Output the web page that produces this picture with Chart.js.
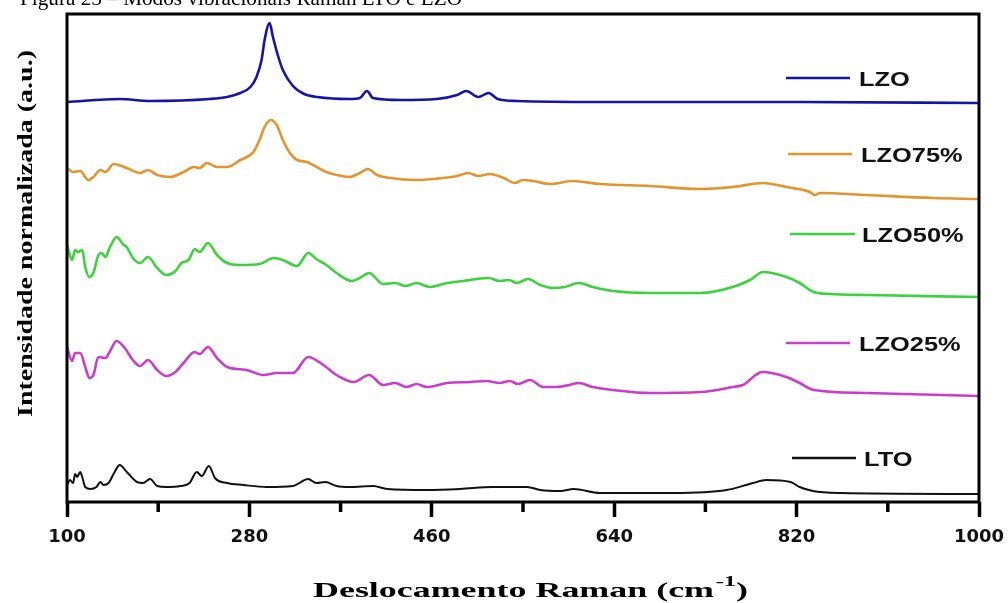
<!DOCTYPE html>
<html>
<head>
<meta charset="utf-8">
<script src="https://cdn.jsdelivr.net/npm/chart.js@4.4.1/dist/chart.umd.min.js"></script>
<style>
  html, body { margin: 0; padding: 0; background: #fff; }
  #wrap { width: 1008px; height: 603px; position: relative; }
</style>
</head>
<body>
<div id="wrap"><canvas id="ramanChart"></canvas></div>
<script>
// Raman shift (cm-1) and offset intensity (a.u.)
const lzoShift     = [100, 152, 182, 241, 258, 271, 281, 287, 292, 295, 300, 303, 308, 313, 323, 334, 347, 379, 389, 396, 402, 429, 465, 485, 494, 506, 516, 525, 544, 626, 823, 1000];
const lzoIntensity = [400, 403, 401, 403, 405, 409, 415, 425, 442, 462, 479, 466, 447, 432, 416, 408, 405, 403, 404, 411, 404, 402, 403, 407, 411, 405, 409, 403, 401, 400, 400, 399];

const lzo75Shift     = [100, 106, 113, 121, 126, 133, 138, 146, 159, 172, 180, 189, 202, 215, 225, 231, 238, 248, 258, 271, 284, 290, 295, 301, 307, 313, 320, 327, 337, 343, 356, 366, 379, 389, 397, 406, 419, 445, 471, 485, 496, 506, 517, 531, 542, 550, 560, 577, 599, 626, 675, 725, 757, 787, 810, 833, 838, 843, 889, 955, 1000];
const lzo75Intensity = [334, 330, 331, 322, 325, 332, 330, 338, 334, 329, 332, 327, 325, 330, 335, 334, 339, 335, 335, 342, 350, 362, 375, 382, 377, 362, 349, 342, 340, 337, 330, 327, 325, 329, 333, 327, 324, 322, 324, 326, 329, 326, 328, 324, 319, 322, 321, 318, 321, 318, 316, 313, 315, 319, 315, 310, 307, 309, 307, 304, 303];

const lzo50Shift     = [100, 105, 108, 111, 115, 118, 122, 126, 131, 134, 138, 142, 149, 156, 159, 165, 172, 180, 189, 198, 207, 213, 220, 226, 231, 239, 248, 258, 271, 290, 304, 313, 327, 338, 346, 356, 366, 381, 389, 398, 412, 424, 434, 445, 458, 475, 491, 504, 516, 527, 536, 544, 555, 567, 580, 591, 605, 619, 639, 675, 725, 757, 774, 787, 810, 823, 837, 853, 889, 1000];
const lzo50Intensity = [257, 242, 252, 250, 252, 235, 225, 229, 247, 249, 245, 254, 265, 257, 255, 244, 239, 245, 234, 227, 231, 239, 242, 253, 250, 259, 247, 239, 237, 238, 244, 242, 236, 249, 243, 237, 229, 221, 224, 229, 218, 219, 216, 219, 215, 219, 221, 223, 224, 221, 222, 219, 223, 217, 214, 215, 219, 215, 211, 209, 209, 215, 222, 230, 225, 219, 210, 208, 207, 205];

const lzo25Shift     = [100, 105, 108, 113, 118, 122, 126, 131, 138, 142, 149, 157, 165, 172, 180, 189, 198, 207, 215, 226, 231, 239, 248, 258, 277, 294, 307, 323, 338, 353, 366, 383, 398, 412, 424, 435, 445, 455, 475, 498, 514, 527, 537, 545, 557, 570, 583, 596, 605, 619, 639, 675, 725, 757, 767, 786, 810, 823, 837, 889, 1000];
const lzo25Intensity = [155, 141, 149, 149, 135, 124, 127, 145, 144, 150, 161, 154, 142, 136, 142, 132, 126, 130, 139, 150, 148, 155, 144, 135, 132, 127, 129, 129, 145, 137, 127, 120, 127, 117, 119, 115, 118, 115, 119, 120, 121, 119, 121, 118, 122, 115, 115, 117, 119, 115, 112, 109, 110, 115, 117, 130, 125, 119, 112, 109, 106];

const ltoShift     = [100, 103, 106, 108, 110, 113, 115, 118, 123, 129, 133, 136, 141, 147, 152, 159, 169, 175, 182, 189, 198, 212, 221, 228, 233, 240, 246, 258, 274, 297, 323, 338, 346, 355, 366, 379, 402, 416, 455, 488, 520, 554, 567, 587, 600, 626, 698, 751, 777, 790, 814, 823, 836, 863, 1000];
const ltoIntensity = [17, 22, 19, 28, 25, 30, 25, 15, 13, 15, 20, 17, 19, 30, 37, 30, 20, 19, 23, 16, 15, 16, 19, 30, 26, 36, 24, 19, 17, 15, 16, 23, 19, 20, 16, 15, 16, 13, 12, 13, 15, 15, 12, 11, 13, 9, 9, 12, 19, 22, 20, 15, 11, 9, 8];

const seriesNames  = ['LZO', 'LZO75%', 'LZO50%', 'LZO25%', 'LTO'];
const seriesColors = ['#1414aa', '#e3942d', '#3dd23d', '#c93dc9', '#111111'];
const majorTicks   = [100, 280, 460, 640, 820, 1000];
const minorTicks   = [190, 370, 550, 730, 910];

const chartTitle = 'Figura 25 – Modos vibracionais Raman LTO e LZO';
const yTitle     = 'Intensidade normalizada (a.u.)';
const xTitle     = 'Deslocamento Raman (cm';

const shifts      = [lzoShift, lzo75Shift, lzo50Shift, lzo25Shift, ltoShift];
const intensities = [lzoIntensity, lzo75Intensity, lzo50Intensity, lzo25Intensity, ltoIntensity];

// legend placement (pixels): line start, line end, line y, text x
const legendSpots = [
  [786, 850, 78, 859],
  [788, 852, 154, 861],
  [790, 855, 234, 862],
  [786, 850, 343, 859],
  [792, 856, 458, 864]
];

function fitText(ctx, text, x, y, width) {
  const w = ctx.measureText(text).width;
  ctx.save();
  ctx.translate(x, y);
  ctx.scale(width / w, 1);
  ctx.fillText(text, 0, 0);
  ctx.restore();
}

const decor = {
  id: 'decor',
  afterDraw(chart) {
    const { ctx, chartArea: a, scales: { x } } = chart;
    ctx.save();

    // frame
    ctx.strokeStyle = '#000';
    ctx.lineWidth = 3;
    ctx.strokeRect(a.left, a.top, a.right - a.left, a.bottom - a.top);

    // minor ticks
    ctx.lineWidth = 3.5;
    minorTicks.forEach(v => {
      const px = x.getPixelForValue(v);
      ctx.beginPath();
      ctx.moveTo(px, a.bottom);
      ctx.lineTo(px, a.bottom + 10);
      ctx.stroke();
    });

    // legend
    ctx.textAlign = 'left';
    ctx.textBaseline = 'alphabetic';
    ctx.font = 'bold 20px "Liberation Sans", Arial, sans-serif';
    ctx.fillStyle = '#111';
    legendSpots.forEach((s, i) => {
      ctx.strokeStyle = seriesColors[i];
      ctx.lineWidth = 2.5;
      ctx.beginPath();
      ctx.moveTo(s[0], s[2]);
      ctx.lineTo(s[1], s[2]);
      ctx.stroke();
      const w = ctx.measureText(seriesNames[i]).width;
      fitText(ctx, seriesNames[i], s[3], s[2] + 7.5, w * 1.27);
    });

    // top caption (cut off by the page edge)
    ctx.font = '22px "Liberation Serif", "Times New Roman", serif';
    ctx.fillStyle = '#000';
    fitText(ctx, chartTitle, 20, 5, 442);

    // y title
    ctx.font = 'bold 22px "Liberation Serif", "Times New Roman", serif';
    const yw = ctx.measureText(yTitle).width;
    ctx.save();
    ctx.translate(32, 417);
    ctx.rotate(-Math.PI / 2);
    ctx.scale(367 / yw, 1);
    ctx.fillText(yTitle, 0, 0);
    ctx.restore();

    // x title with superscript
    ctx.font = 'bold 22px "Liberation Serif", "Times New Roman", serif';
    const w1 = ctx.measureText(xTitle).width;
    ctx.font = 'bold 15px "Liberation Serif", "Times New Roman", serif';
    const w2 = ctx.measureText('-1').width + 1;
    ctx.font = 'bold 22px "Liberation Serif", "Times New Roman", serif';
    const w3 = ctx.measureText(')').width;
    const sx = 435 / (w1 + w2 + w3);
    ctx.save();
    ctx.translate(313, 597);
    ctx.scale(sx, 1);
    ctx.fillText(xTitle, 0, 0);
    ctx.fillText(')', w1 + w2, 0);
    ctx.font = 'bold 15px "Liberation Serif", "Times New Roman", serif';
    ctx.fillText('-1', w1 + 1, -11);
    ctx.restore();

    ctx.restore();
  }
};

new Chart(document.getElementById('ramanChart'), {
  type: 'line',
  data: {
    datasets: seriesNames.map((name, i) => ({
      label: name,
      data: shifts[i].map((s, j) => ({ x: s, y: intensities[i][j] })),
      borderColor: seriesColors[i],
      borderWidth: i === 4 ? 2 : 2.6,
      pointRadius: 0,
      fill: false,
      cubicInterpolationMode: 'monotone'
    }))
  },
  options: {
    responsive: true,
    maintainAspectRatio: false,
    animation: false,
    layout: { padding: { left: 67, right: 29, top: 14, bottom: 0 } },
    plugins: { legend: { display: false }, tooltip: { enabled: false } },
    scales: {
      x: {
        type: 'linear',
        min: 100, max: 1000,
        afterFit: s => { s.height = 101; s.paddingLeft = 0; s.paddingRight = 0; },
        afterBuildTicks: s => { s.ticks = majorTicks.map(v => ({ value: v })); },
        border: { display: false },
        grid: { display: true, drawOnChartArea: false, drawTicks: true, tickLength: 15, tickWidth: 3.5, tickColor: '#000' },
        ticks: {
          color: '#111',
          padding: 10,
          maxRotation: 0,
          autoSkip: false,
          callback: v => String(v),
          font: { family: '"DejaVu Sans"', weight: 'bold', size: 18 }
        }
      },
      y: {
        display: false,
        min: 0, max: 488
      }
    }
  },
  plugins: [decor]
});
</script>
</body>
</html>
